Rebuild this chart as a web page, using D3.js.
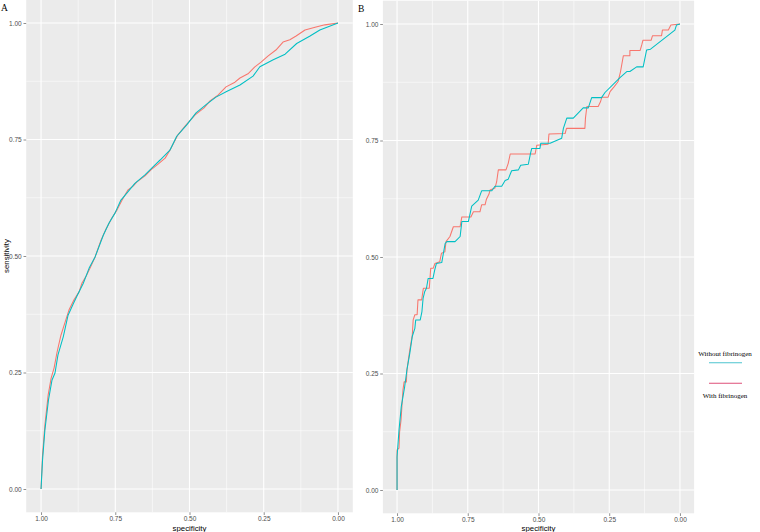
<!DOCTYPE html>
<html><head><meta charset="utf-8">
<script src="https://cdn.jsdelivr.net/npm/d3@7"></script>
<style>body{margin:0;background:#fff}svg{display:block}</style>
</head><body>
<svg id="chart" width="760" height="532"></svg>
<script>
// ---------- DATA ----------
const tickValues = [1.00, 0.75, 0.50, 0.25, 0.00];
const tickLabels = ["1.00", "0.75", "0.50", "0.25", "0.00"];
const minorValues = [0.875, 0.625, 0.375, 0.125];
const seriesNames = ["Without fibrinogen", "With fibrinogen"];
const panelLabels = ["A", "B"];

// Panel A — without fibrinogen
const aWithoutSpec = [1,0.995,0.987,0.975,0.963,0.953,0.943,0.925,0.909,0.891,0.879,0.858,0.838,0.818,0.790,0.771,0.751,0.731,0.711,0.684,0.650,0.622,0.599,0.566,0.543,0.510,0.478,0.442,0.411,0.375,0.330,0.286,0.263,0.218,0.178,0.139,0.094,0.061,0];
const aWithoutSens = [0,0.062,0.127,0.191,0.234,0.249,0.288,0.327,0.373,0.398,0.414,0.441,0.474,0.498,0.545,0.571,0.592,0.620,0.635,0.656,0.674,0.692,0.706,0.727,0.757,0.781,0.807,0.826,0.841,0.853,0.867,0.886,0.906,0.921,0.933,0.956,0.972,0.985,1];
// Panel A — with fibrinogen
const aWithSpec = [1,0.995,0.987,0.976,0.966,0.956,0.946,0.933,0.919,0.906,0.889,0.872,0.862,0.848,0.835,0.818,0.798,0.781,0.761,0.744,0.727,0.707,0.690,0.677,0.650,0.630,0.606,0.582,0.566,0.539,0.512,0.481,0.451,0.431,0.404,0.377,0.347,0.330,0.303,0.280,0.259,0.236,0.209,0.185,0.162,0.141,0.111,0.077,0.044,0];
const aWithSens = [0,0.073,0.137,0.202,0.238,0.26,0.294,0.33,0.358,0.384,0.406,0.423,0.442,0.457,0.474,0.498,0.534,0.558,0.582,0.599,0.62,0.642,0.65,0.659,0.672,0.685,0.697,0.71,0.727,0.76,0.781,0.803,0.818,0.833,0.845,0.863,0.873,0.882,0.891,0.906,0.916,0.929,0.942,0.959,0.964,0.972,0.985,0.991,0.996,1];

// Panel B — without fibrinogen
const bWithoutSpec = [1,1,0.993,0.985,0.973,0.965,0.955,0.946,0.937,0.934,0.918,0.912,0.908,0.902,0.896,0.890,0.873,0.867,0.861,0.842,0.830,0.824,0.795,0.777,0.771,0.748,0.736,0.713,0.701,0.665,0.654,0.630,0.618,0.607,0.595,0.571,0.563,0.536,0.528,0.524,0.495,0.492,0.459,0.418,0.412,0.400,0.377,0.342,0.324,0.312,0.277,0.265,0.212,0.188,0.177,0.153,0.130,0.118,0.104,0.018,0.012,0];
const bWithoutSens = [0,0.071,0.129,0.179,0.222,0.258,0.293,0.330,0.347,0.365,0.365,0.383,0.411,0.426,0.433,0.454,0.454,0.472,0.486,0.488,0.529,0.533,0.533,0.544,0.576,0.576,0.609,0.622,0.642,0.642,0.652,0.652,0.664,0.667,0.685,0.687,0.697,0.699,0.723,0.733,0.733,0.744,0.744,0.755,0.776,0.798,0.798,0.820,0.820,0.842,0.842,0.853,0.885,0.898,0.898,0.908,0.908,0.944,0.946,0.987,0.998,1];
// Panel B — with fibrinogen
const bWithSpec = [1,1,0.993,0.991,0.986,0.979,0.975,0.967,0.965,0.955,0.946,0.943,0.937,0.929,0.926,0.913,0.907,0.886,0.881,0.872,0.866,0.849,0.843,0.831,0.827,0.813,0.801,0.777,0.771,0.739,0.730,0.707,0.701,0.689,0.684,0.675,0.671,0.654,0.648,0.642,0.615,0.607,0.600,0.512,0.506,0.466,0.463,0.406,0.401,0.336,0.334,0.329,0.289,0.281,0.276,0.254,0.247,0.233,0.219,0.210,0.200,0.177,0.177,0.141,0.135,0.131,0.102,0.097,0.065,0.062,0.041,0.032,0];
const bWithSens = [0,0.086,0.090,0.124,0.150,0.215,0.232,0.232,0.258,0.300,0.333,0.365,0.376,0.376,0.408,0.408,0.433,0.433,0.476,0.476,0.486,0.490,0.508,0.511,0.533,0.544,0.565,0.565,0.586,0.586,0.597,0.597,0.612,0.612,0.624,0.635,0.644,0.648,0.661,0.687,0.687,0.701,0.721,0.721,0.740,0.742,0.764,0.765,0.776,0.776,0.798,0.823,0.823,0.833,0.843,0.843,0.855,0.865,0.876,0.898,0.932,0.932,0.943,0.943,0.955,0.965,0.965,0.975,0.975,0.987,0.987,0.998,1];

// ---------- LAYOUT ----------
const colWithout = "#00BFC4", colWith = "#F8766D";
const svg = d3.select("#chart");
const panels = [
  {label: panelLabels[0], box: {x0: 26.2, x1: 352.8, y0: -0.3, y1: 512.3}, labelPos: [1, 11],
   series: [{spec: aWithSpec, sens: aWithSens, color: colWith}, {spec: aWithoutSpec, sens: aWithoutSens, color: colWithout}]},
  {label: panelLabels[1], box: {x0: 382.9, x1: 694.1, y0: 0.7, y1: 513.3}, labelPos: [358, 12],
   series: [{spec: bWithSpec, sens: bWithSens, color: colWith}, {spec: bWithoutSpec, sens: bWithoutSens, color: colWithout}]}
];

const sansFont = "'Liberation Sans', Arial, sans-serif";
const serifFont = "'Liberation Serif', 'Times New Roman', serif";

panels.forEach((p, pi) => {
  const b = p.box;
  const x = d3.scaleLinear().domain([1.05, -0.05]).range([b.x0, b.x1]);
  const y = d3.scaleLinear().domain([-0.05, 1.05]).range([b.y1, b.y0]);
  const g = svg.append("g");
  g.append("rect").attr("x", b.x0).attr("y", b.y0).attr("width", b.x1 - b.x0).attr("height", b.y1 - b.y0).attr("fill", "#ebebeb");
  // minor grid
  g.selectAll(".vmin").data(minorValues).join("line")
    .attr("x1", d => x(d)).attr("x2", d => x(d)).attr("y1", b.y0).attr("y2", b.y1)
    .attr("stroke", "#fff").attr("stroke-width", 0.55);
  g.selectAll(".hmin").data(minorValues).join("line")
    .attr("y1", d => y(d)).attr("y2", d => y(d)).attr("x1", b.x0).attr("x2", b.x1)
    .attr("stroke", "#fff").attr("stroke-width", 0.55);
  // major grid
  g.selectAll(".vmaj").data(tickValues).join("line")
    .attr("x1", d => x(d)).attr("x2", d => x(d)).attr("y1", b.y0).attr("y2", b.y1)
    .attr("stroke", "#fff").attr("stroke-width", 1.1);
  g.selectAll(".hmaj").data(tickValues).join("line")
    .attr("y1", d => y(d)).attr("y2", d => y(d)).attr("x1", b.x0).attr("x2", b.x1)
    .attr("stroke", "#fff").attr("stroke-width", 1.1);

  // series
  const line = d3.line().x(d => x(d[0])).y(d => y(d[1]));
  p.series.forEach(s => {
    const pts = s.spec.map((v, i) => [v, s.sens[i]]);
    g.append("path").datum(pts).attr("d", line).attr("fill", "none")
      .attr("stroke", s.color).attr("stroke-width", 1.05).attr("stroke-linejoin", "round");
  });

  // axes
  const fmt = (d) => tickLabels[tickValues.indexOf(d)];
  const ax = g.append("g").attr("transform", `translate(0,${b.y1})`)
    .call(d3.axisBottom(x).tickValues(tickValues).tickFormat(fmt).tickSize(2.7).tickPadding(1.8));
  const ay = g.append("g").attr("transform", `translate(${b.x0},0)`)
    .call(d3.axisLeft(y).tickValues(tickValues).tickFormat(fmt).tickSize(2.7).tickPadding(1.8));
  [ax, ay].forEach(a => {
    a.select(".domain").remove();
    a.selectAll(".tick line").attr("stroke", "#333").attr("stroke-width", 0.55);
    a.selectAll(".tick text").attr("fill", "#4d4d4d").style("font-family", sansFont).style("font-size", "6.5px");
  });

  // x title
  g.append("text").attr("x", (x(1) + x(0)) / 2).attr("y", 530.5).attr("text-anchor", "middle")
    .style("font-family", sansFont).style("font-size", "7.8px").attr("fill", "#000").text("specificity");
  if (pi === 0) {
    g.append("text").attr("transform", `translate(8.5,${(y(0) + y(1)) / 2}) rotate(-90)`)
      .attr("text-anchor", "middle").style("font-family", sansFont).style("font-size", "7.8px")
      .attr("fill", "#000").text("sensitivity");
  }
  // panel label
  g.append("text").attr("x", p.labelPos[0]).attr("y", p.labelPos[1])
    .style("font-family", serifFont).style("font-size", "9.5px").attr("fill", "#000").text(p.label);
});

// legend
const lg = svg.append("g");
const legItems = [
  {name: seriesNames[0], color: "#4cc4cf", textY: 355.5, lineY: 362.8},
  {name: seriesNames[1], color: "#de4f79", textY: 397.5, lineY: 383.3}
];
legItems.forEach(it => {
  lg.append("text").attr("x", 725).attr("y", it.textY).attr("text-anchor", "middle")
    .style("font-family", serifFont).style("font-size", "7px").attr("fill", "#000").text(it.name);
  lg.append("line").attr("x1", 709).attr("x2", 742).attr("y1", it.lineY).attr("y2", it.lineY)
    .attr("stroke", it.color).attr("stroke-width", 1.1);
});
</script>
</body></html>
